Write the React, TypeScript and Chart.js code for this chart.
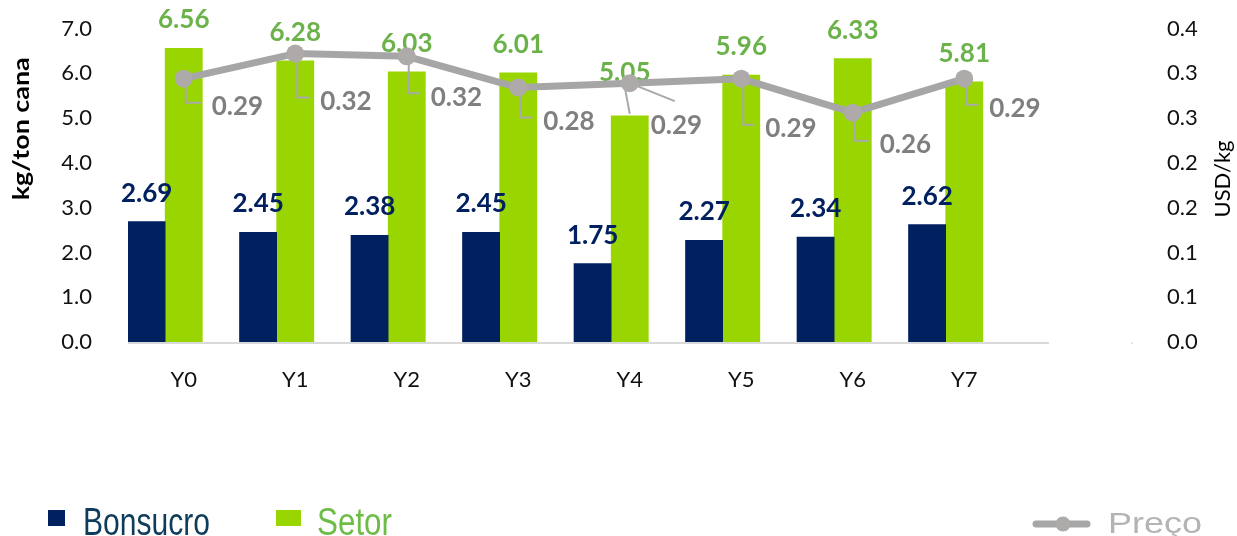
import React, { useEffect, useRef } from "react";
import { Chart, registerables } from "chart.js";

Chart.register(...registerables);

// ---------- data ----------
const categories = ["Y0", "Y1", "Y2", "Y3", "Y4", "Y5", "Y6", "Y7", ""];
const bonsucroValues = [2.69, 2.45, 2.38, 2.45, 1.75, 2.27, 2.34, 2.62, null];
const setorValues = [6.56, 6.28, 6.03, 6.01, 5.05, 5.96, 6.33, 5.81, null];
const spacerValues = [null, null, null, null, null, null, null, null, null];
const precoValues = [0.294, 0.322, 0.319, 0.284, 0.289, 0.294, 0.256, 0.294, null];
const leftTickLabels = ["0.0", "1.0", "2.0", "3.0", "4.0", "5.0", "6.0", "7.0"];
const rightTickLabels = ["0.0", "0.1", "0.1", "0.2", "0.2", "0.3", "0.3", "0.4"];
const legendLabels = ["Bonsucro", "Setor", "Preço"];
const axisTitles = ["kg/ton cana", "USD/kg"];

// ---------- styles ----------
const FONT = "Lato, 'Open Sans', sans-serif";
const NAVY = "#002060";
const GREEN = "#99D500";
const GREEN_LABEL = "#6BB24A";
const GRAY_LINE = "#A6A6A6";
const GRAY_POINT = "#AEAAAA";
const GRAY_LABEL = "#7F7F7F";
const LEADER = "#A9A9A9";

// label placement (offset of label left / cap-centre from the point)
const priceLabelOffsets: [number, number][] = [
  [28, 27], [25, 47], [24, 40], [25, 33], [21, 41], [24, 49], [27, 31], [25, 29],
];
const setorLabelShifts: Record<number, [number, number]> = { 4: [-5, -15] };

function scaledText(ctx: CanvasRenderingContext2D, text: string, x: number, y: number, targetW: number) {
  const w = ctx.measureText(text).width;
  ctx.save();
  ctx.translate(x, y);
  ctx.scale(targetW / w, 1);
  ctx.fillText(text, 0, 0);
  ctx.restore();
}

const overlayPlugin = {
  id: "overlay",
  beforeDatasetsDraw(chart: any) {
    const { ctx, chartArea, scales } = chart;
    const xs = scales.x;
    const catW = (xs.getPixelForValue(1) - xs.getPixelForValue(0));
    const endX = xs.getPixelForValue(categories.length - 1) - 0.24 * catW;
    ctx.save();
    ctx.strokeStyle = "#D9D9D9";
    ctx.lineWidth = 2;
    ctx.beginPath();
    ctx.moveTo(chartArea.left, chartArea.bottom + 1);
    ctx.lineTo(endX, chartArea.bottom + 1);
    ctx.stroke();
    ctx.fillStyle = "#D0D0D0";
    ctx.fillRect(chartArea.right, chartArea.bottom, 1, 2);
    ctx.restore();
  },
  beforeDatasetDraw(chart: any, args: any) {
    if (args.index !== 3) return;
    const { ctx } = chart;
    const m0 = chart.getDatasetMeta(0);
    const m1 = chart.getDatasetMeta(1);
    const m3 = chart.getDatasetMeta(3);
    ctx.save();
    ctx.font = `bold 26px ${FONT}`;
    ctx.textAlign = "center";
    ctx.textBaseline = "alphabetic";
    m0.data.forEach((el: any, i: number) => {
      const v = bonsucroValues[i];
      if (v == null) return;
      ctx.fillStyle = NAVY;
      ctx.fillText(v.toFixed(2), el.x, el.y - 20);
    });
    m1.data.forEach((el: any, i: number) => {
      const v = setorValues[i];
      if (v == null) return;
      const sh = setorLabelShifts[i] || [0, 0];
      const lx = el.x + sh[0];
      const ly = el.y - 20 + sh[1];
      if (sh[1] !== 0) {
        ctx.strokeStyle = LEADER;
        ctx.lineWidth = 2;
        ctx.beginPath();
        ctx.moveTo(lx, ly + 6);
        ctx.lineTo(el.x, el.y - 2);
        ctx.stroke();
      }
      ctx.fillStyle = GREEN_LABEL;
      ctx.fillText(v.toFixed(2), lx, ly);
    });
    // price leaders
    ctx.strokeStyle = LEADER;
    ctx.lineWidth = 2;
    m3.data.forEach((p: any, i: number) => {
      const v = precoValues[i];
      if (v == null) return;
      const [dx, dy] = priceLabelOffsets[i];
      const left = p.x + dx;
      const cy = p.y + dy;
      ctx.beginPath();
      if (i === 4) {
        ctx.moveTo(p.x, p.y);
        ctx.lineTo(left + 24, cy - 23);
      } else {
        ctx.moveTo(p.x + 2, p.y);
        ctx.lineTo(p.x + 2, cy - 3);
        ctx.lineTo(left - 11, cy - 3);
      }
      ctx.stroke();
    });
    ctx.restore();
  },
  afterDatasetsDraw(chart: any) {
    const { ctx } = chart;
    const m3 = chart.getDatasetMeta(3);
    ctx.save();
    ctx.font = `bold 26px ${FONT}`;
    ctx.textAlign = "left";
    ctx.textBaseline = "alphabetic";
    ctx.fillStyle = GRAY_LABEL;
    m3.data.forEach((p: any, i: number) => {
      const v = precoValues[i];
      if (v == null) return;
      const [dx, dy] = priceLabelOffsets[i];
      ctx.fillText(v.toFixed(2), p.x + dx, p.y + dy + 9.5);
    });
    ctx.restore();
  },
  afterDraw(chart: any) {
    const { ctx, chartArea } = chart;
    const h = chartArea.bottom - chartArea.top;
    ctx.save();
    // axis titles
    ctx.fillStyle = "#000000";
    ctx.textAlign = "center";
    ctx.textBaseline = "middle";
    ctx.font = `bold 22px ${FONT}`;
    ctx.save();
    ctx.translate(22, chartArea.top + 0.32 * h);
    ctx.rotate(-Math.PI / 2);
    scaledText(ctx, axisTitles[0], 0, 0, 143);
    ctx.restore();
    ctx.font = `22px ${FONT}`;
    ctx.save();
    ctx.translate(1223, chartArea.top + 0.48 * h);
    ctx.rotate(-Math.PI / 2);
    scaledText(ctx, axisTitles[1], 0, 0, 77);
    ctx.restore();

    // legend
    ctx.textAlign = "left";
    ctx.textBaseline = "alphabetic";
    ctx.fillStyle = NAVY;
    ctx.fillRect(48, 510, 17, 16);
    ctx.font = `38px 'Liberation Sans', Arial, sans-serif`;
    ctx.fillStyle = "#0E3D5C";
    scaledText(ctx, legendLabels[0], 83, 535, 127);
    ctx.fillStyle = GREEN;
    ctx.fillRect(276, 510, 25, 16);
    ctx.fillStyle = "#6CBD45";
    scaledText(ctx, legendLabels[1], 317, 535, 75);

    ctx.strokeStyle = GRAY_LINE;
    ctx.lineWidth = 7;
    ctx.lineCap = "round";
    ctx.beginPath();
    ctx.moveTo(1036, 524);
    ctx.lineTo(1087, 524);
    ctx.stroke();
    ctx.fillStyle = GRAY_POINT;
    ctx.beginPath();
    ctx.arc(1063, 524, 7.5, 0, Math.PI * 2);
    ctx.fill();
    ctx.font = `30px 'Liberation Sans', Arial, sans-serif`;
    ctx.fillStyle = "#B4B4B4";
    scaledText(ctx, legendLabels[2], 1108, 533, 94);
    ctx.restore();
  },
};

export default function App() {
  const ref = useRef<HTMLCanvasElement | null>(null);
  useEffect(() => {
    if (!ref.current) return;
    const chart = new Chart(ref.current, {
      type: "bar",
      data: {
        labels: categories,
        datasets: [
          { label: legendLabels[0], data: bonsucroValues, backgroundColor: NAVY, yAxisID: "y", order: 1, categoryPercentage: 1, barPercentage: 1 },
          { label: legendLabels[1], data: setorValues, backgroundColor: GREEN, yAxisID: "y", order: 1, categoryPercentage: 1, barPercentage: 1 },
          { label: "", data: spacerValues, backgroundColor: "rgba(0,0,0,0)", yAxisID: "y", order: 1, categoryPercentage: 1, barPercentage: 1 },
          {
            type: "line",
            label: legendLabels[2],
            data: precoValues,
            yAxisID: "y1",
            order: 0,
            borderColor: GRAY_LINE,
            borderWidth: 7,
            borderJoinStyle: "round",
            pointRadius: 9,
            pointBackgroundColor: GRAY_POINT,
            pointBorderWidth: 0,
            tension: 0,
            spanGaps: false,
          } as any,
        ],
      },
      options: {
        responsive: false,
        animation: false,
        layout: { padding: { top: 28.5, bottom: 0, left: 0, right: 0 } },
        plugins: { legend: { display: false }, tooltip: { enabled: false } },
        scales: {
          x: {
            grid: { display: false },
            border: { display: false },
            ticks: { font: { family: FONT, size: 22 }, color: "#111111", padding: 17, maxRotation: 0, autoSkip: false },
            afterFit: (s: any) => { s.height = 194; s.paddingLeft = 0; s.paddingRight = 0; },
          },
          y: {
            position: "left",
            min: 0,
            max: 7,
            grid: { display: false },
            border: { display: false },
            ticks: {
              stepSize: 1,
              padding: 28,
              font: { family: FONT, size: 22 },
              color: "#111111",
              callback: (_v: any, i: number) => leftTickLabels[i],
            },
            afterFit: (s: any) => { s.width = 128; s.paddingTop = 0; s.paddingBottom = 0; },
          },
          y1: {
            position: "right",
            min: 0,
            max: 0.35,
            grid: { display: false },
            border: { display: false },
            ticks: {
              stepSize: 0.05,
              padding: 27.5,
              font: { family: FONT, size: 22 },
              color: "#111111",
              callback: (_v: any, i: number) => rightTickLabels[i],
            },
            afterFit: (s: any) => { s.width = 105.5; s.paddingTop = 0; s.paddingBottom = 0; },
          },
        },
      },
      plugins: [overlayPlugin],
    });
    return () => chart.destroy();
  }, []);
  return (
    <div style={{ position: "fixed", left: 0, top: 0, width: 1237, height: 536, background: "#ffffff" }}>
      <canvas ref={ref} width={1237} height={536} />
    </div>
  );
}
